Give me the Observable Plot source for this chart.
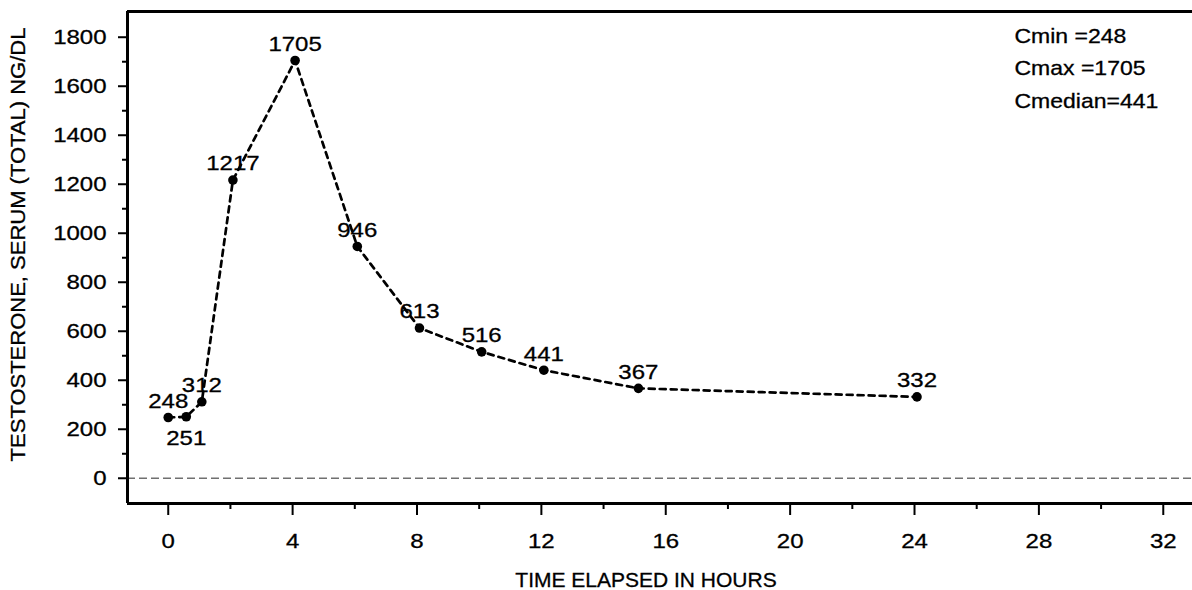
<!DOCTYPE html>
<html>
<head>
<meta charset="utf-8">
<script src="https://cdn.jsdelivr.net/npm/d3@7"></script>
<script src="https://cdn.jsdelivr.net/npm/@observablehq/plot@0.6"></script>
<style>
  html, body { margin: 0; padding: 0; background: #fff; overflow: hidden; }
  #chart svg { display: block; }
</style>
</head>
<body>
<div id="chart"></div>
<script>
// ---- data ----
const times = [0, 0.58, 1.08, 2.08, 4.08, 6.08, 8.08, 10.08, 12.08, 15.12, 24.08];
const values = [248, 251, 312, 1217, 1705, 946, 613, 516, 441, 367, 332];
const xTicks = [0, 4, 8, 12, 16, 20, 24, 28, 32];
const xMinorTicks = [2, 6, 10, 14, 18, 22, 26, 30];
const yTicks = [0, 200, 400, 600, 800, 1000, 1200, 1400, 1600, 1800];
const yMinorTicks = [100, 300, 500, 700, 900, 1100, 1300, 1500, 1700];
const xDomain = [-1.31, 32.94];
const yDomain = [-103, 1905];
const xTitle = "TIME ELAPSED IN HOURS";
const yTitle = "TESTOSTERONE, SERUM (TOTAL) NG/DL";
const statLabels = ["Cmin =", "Cmax =", "Cmedian="];

const data = times.map((t, i) => ({time: t, value: values[i], i}));
const statValues = [d3.min(values), d3.max(values), d3.median(values)];
const statsText = statLabels.map((l, i) => l + statValues[i]).join("\n");

const FS = 20;
const font = "'Liberation Sans', Arial, Helvetica, sans-serif";

const chart = Plot.plot({
  width: 1192,
  height: 590,
  marginLeft: 127,
  marginRight: 0,
  marginTop: 11,
  marginBottom: 87,
  style: {fontFamily: font, fontSize: FS + "px", color: "black", background: "white"},
  x: {domain: xDomain},
  y: {domain: yDomain},
  marks: [
    Plot.ruleY([0], {stroke: "#707070", strokeWidth: 1.3, strokeDasharray: "8,4"}),
    Plot.line(data, {x: "time", y: "value", stroke: "black", strokeWidth: 2.7, strokeDasharray: "6,5"}),
    Plot.dot(data, {x: "time", y: "value", r: 4.8, fill: "black", stroke: "none"}),
    Plot.text(data.filter(d => d.i !== 1), {x: "time", y: "value", text: d => String(d.value), dy: -16, fontSize: FS, fill: "black"}),
    Plot.text(data.filter(d => d.i === 1), {x: "time", y: "value", text: d => String(d.value), dy: 22, fontSize: FS, fill: "black"}),
    Plot.axisX({ticks: xTicks, tickSize: 12, tickPadding: 18, strokeWidth: 2, fontSize: FS, label: null, tickFormat: d => String(d)}),
    Plot.axisX({ticks: xMinorTicks, tickSize: 6, strokeWidth: 2, text: null, label: null}),
    Plot.axisY({ticks: yTicks, tickSize: 9, tickPadding: 12, strokeWidth: 2, fontSize: FS, label: null, tickFormat: d => String(d)}),
    Plot.axisY({ticks: yMinorTicks, tickSize: 5, strokeWidth: 2, text: null, label: null}),
    Plot.ruleX([xDomain[0]], {stroke: "black", strokeWidth: 3}),
    Plot.ruleY(yDomain, {stroke: "black", strokeWidth: 3}),
    Plot.text([xTitle], {frameAnchor: "bottom", lineAnchor: "middle", dy: 77, dx: -14, fontSize: FS, fill: "black"}),
    Plot.text([yTitle], {frameAnchor: "left", rotate: -90, textAnchor: "middle", lineAnchor: "middle", dx: -108.7, dy: -13, fontSize: FS, fill: "black"}),
    Plot.text([statsText], {frameAnchor: "top-right", textAnchor: "start", lineAnchor: "top", lineHeight: 1.63, dx: -178, dy: 8, fontSize: FS, fill: "black"})
  ]
});

// the reference glyphs are horizontally wider (digits most of all) and a bit heavier:
// stretch each text around its own anchor
chart.querySelectorAll("text").forEach(el => {
  const s = el.textContent.trim();
  const stretch = /^\d+$/.test(s) ? 1.2 : s === xTitle ? 1.05 : s === yTitle ? 1.1 : 1.15;
  const t = el.getAttribute("transform") || "";
  const x = +el.getAttribute("x") || 0;
  const y = +el.getAttribute("y") || 0;
  el.setAttribute("transform", `${t} translate(${x},${y}) scale(${stretch},1) translate(${-x},${-y})`);
  el.setAttribute("stroke", "black");
  el.setAttribute("stroke-width", "0.3");
});

document.getElementById("chart").appendChild(chart);
</script>
</body>
</html>
